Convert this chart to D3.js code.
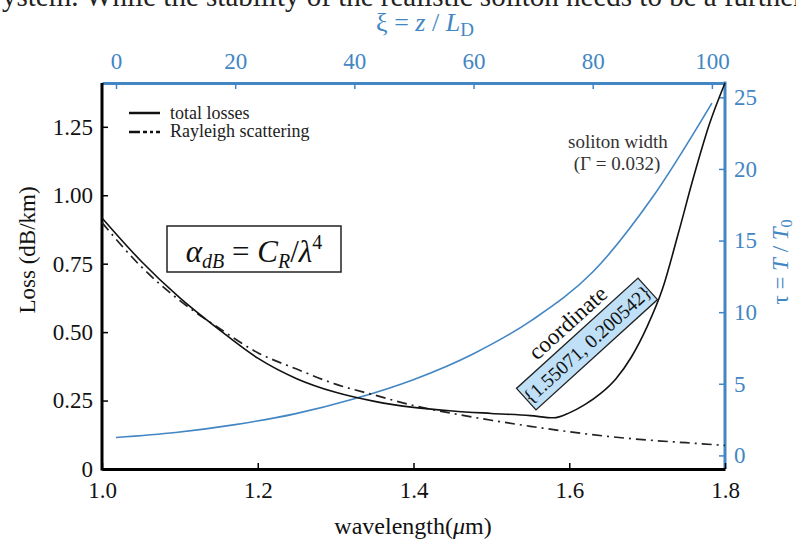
<!DOCTYPE html>
<html>
<head>
<meta charset="utf-8">
<script src="https://cdn.jsdelivr.net/npm/d3@7"></script>
<style>
    body { margin: 0; background: #fff; }
    text { font-family: "Liberation Serif", "Times New Roman", serif; }
</style>
</head>
<body>
<script>
//total losses
var lambdaTotal = [1.00, 1.05, 1.10, 1.15, 1.20, 1.25, 1.30, 1.35, 1.40, 1.45, 1.50, 1.55, 1.58, 1.60, 1.62, 1.64, 1.66, 1.68, 1.70, 1.72, 1.74, 1.76, 1.78, 1.80];
var lossTotal   = [0.917, 0.76, 0.625, 0.51, 0.405, 0.33, 0.28, 0.247, 0.225, 0.212, 0.203, 0.195, 0.187, 0.205, 0.235, 0.275, 0.33, 0.41, 0.52, 0.66, 0.86, 1.07, 1.26, 1.41];

//rayleigh scattering
var lambdaRayleigh = [1.00, 1.05, 1.10, 1.15, 1.20, 1.25, 1.30, 1.35, 1.40, 1.45, 1.50, 1.55, 1.60, 1.65, 1.70, 1.75, 1.80];
var lossRayleigh   = [0.90, 0.74, 0.615, 0.515, 0.425, 0.365, 0.31, 0.27, 0.232, 0.203, 0.178, 0.156, 0.136, 0.119, 0.106, 0.096, 0.086];

//soliton width (top and right axes)
var xiValues  = [0, 10, 20, 30, 40, 50, 60, 70, 80, 90, 100];
var tauValues = [1.25, 1.6, 2.15, 2.9, 3.95, 5.3, 7.1, 9.5, 12.8, 18.0, 24.6];

//ticks
var xTicks = [1.0, 1.2, 1.4, 1.6, 1.8];
var yTicks = [0, 0.25, 0.5, 0.75, 1.0, 1.25];
var yTickLabels = ["0", "0.25", "0.50", "0.75", "1.00", "1.25"];
var xiTicks = [0, 20, 40, 60, 80, 100];
var tauTicks = [0, 5, 10, 15, 20, 25];

window.onload = drawChart();

function drawChart() {
    var width = 796,
        height = 547;
    var left = 102, right = 725, top = 83, bottom = 469;
    var blue = "#4286c4";

    var svg = d3.select("body")
        .append("svg")
        .attr("width", width)
        .attr("height", height);

    //scales
    var x = d3.scaleLinear().domain([1.0, 1.8]).range([left, right]);
    var y = d3.scaleLinear().domain([0, 1.41]).range([bottom, top]);
    var xTop = d3.scaleLinear().domain([-2.35, 102.2]).range([left, right]);
    var yRight = d3.scaleLinear().domain([-0.95, 26]).range([bottom, top]);

    //cut-off text line from the page above the figure
    svg.append("text")
        .attr("x", 2)
        .attr("y", 6)
        .style("font-size", "29px")
        .attr("fill", "#222")
        .text("ystem. While the stability of the realistic soliton needs to be a further");

    //top axis (blue)
    var topAxis = svg.append("g")
        .attr("transform", "translate(0," + top + ")")
        .call(d3.axisTop(xTop).tickValues(xiTicks).tickSizeInner(-6).tickSizeOuter(0).tickPadding(14));
    //right axis (blue)
    var rightAxis = svg.append("g")
        .attr("transform", "translate(" + right + ",0)")
        .call(d3.axisRight(yRight).tickValues(tauTicks).tickSizeInner(-6).tickSizeOuter(0).tickPadding(9));
    [topAxis, rightAxis].forEach(function(g){
        g.select(".domain").attr("stroke", blue).attr("stroke-width", 3);
        g.selectAll(".tick line").attr("stroke", blue).attr("stroke-width", 1.5);
        g.selectAll(".tick text").attr("fill", blue).style("font-size", "23px").style("font-family", "Liberation Serif");
    });

    //bottom axis
    var bottomAxis = svg.append("g")
        .attr("transform", "translate(0," + bottom + ")")
        .call(d3.axisBottom(x).tickValues(xTicks).tickFormat(d3.format(".1f")).tickSizeInner(-6).tickSizeOuter(0).tickPadding(13));
    //left axis
    var leftAxis = svg.append("g")
        .attr("transform", "translate(" + left + ",0)")
        .call(d3.axisLeft(y).tickValues(yTicks).tickFormat(function(d, i){ return yTickLabels[i]; }).tickSizeInner(-6).tickSizeOuter(0).tickPadding(9));
    [bottomAxis, leftAxis].forEach(function(g){
        g.select(".domain").attr("stroke", "#000").attr("stroke-width", 3);
        g.selectAll(".tick line").attr("stroke", "#000").attr("stroke-width", 1.5);
        g.selectAll(".tick text").attr("fill", "#111").style("font-size", "23px").style("font-family", "Liberation Serif");
    });
    leftAxis.select(".domain").attr("d", "M0," + (bottom + 1.5) + "V" + top);
    rightAxis.select(".domain").attr("d", "M0," + bottom + "V" + (top - 1.5));

    //axis titles
    svg.append("text")
        .attr("x", 425).attr("y", 31)
        .attr("text-anchor", "middle")
        .attr("fill", blue)
        .style("font-size", "26px")
        .html('ξ = <tspan font-style="italic">z</tspan> / <tspan font-style="italic">L</tspan><tspan dy="5" font-size="19px">D</tspan>');
    svg.append("text")
        .attr("x", 413).attr("y", 534)
        .attr("text-anchor", "middle")
        .attr("fill", "#111")
        .style("font-size", "24px")
        .html('wavelength(<tspan font-style="italic">μ</tspan>m)');
    svg.append("text")
        .attr("transform", "translate(35,250) rotate(-90)")
        .attr("text-anchor", "middle")
        .attr("fill", "#111")
        .style("font-size", "23px")
        .text("Loss (dB/km)");
    svg.append("text")
        .attr("transform", "translate(788,262) rotate(-90)")
        .attr("text-anchor", "middle")
        .attr("fill", blue)
        .style("font-size", "23px")
        .html('τ = <tspan font-style="italic">T</tspan> / <tspan font-style="italic">T</tspan><tspan dy="4" font-size="16px">0</tspan>');

    //lines
    var lossLine = d3.line()
        .x(function(d){ return x(d[0]); })
        .y(function(d){ return y(d[1]); })
        .curve(d3.curveMonotoneX);
    var tauLine = d3.line()
        .x(function(d){ return xTop(d[0]); })
        .y(function(d){ return yRight(d[1]); })
        .curve(d3.curveMonotoneX);

    svg.append("path")
        .datum(d3.zip(xiValues, tauValues))
        .attr("fill", "none")
        .attr("stroke", blue)
        .attr("stroke-width", 1.6)
        .attr("d", tauLine);
    svg.append("path")
        .datum(d3.zip(lambdaRayleigh, lossRayleigh))
        .attr("fill", "none")
        .attr("stroke", "#222")
        .attr("stroke-width", 1.7)
        .attr("stroke-dasharray", "10,5,2,5")
        .attr("d", lossLine);
    svg.append("path")
        .datum(d3.zip(lambdaTotal, lossTotal))
        .attr("fill", "none")
        .attr("stroke", "#111")
        .attr("stroke-width", 1.6)
        .attr("d", lossLine);

    //legend
    svg.append("line").attr("x1", 129).attr("x2", 160).attr("y1", 113).attr("y2", 113)
        .attr("stroke", "#111").attr("stroke-width", 2.5);
    svg.append("line").attr("x1", 129).attr("x2", 160).attr("y1", 132).attr("y2", 132)
        .attr("stroke", "#111").attr("stroke-width", 2.5).attr("stroke-dasharray", "11,3,4,3,3,3");
    svg.append("text").attr("x", 170).attr("y", 119).style("font-size", "18px").attr("fill", "#222").text("total losses");
    svg.append("text").attr("x", 170).attr("y", 137).style("font-size", "18px").attr("fill", "#222").text("Rayleigh scattering");

    //soliton width note
    svg.append("text").attr("x", 618).attr("y", 148).attr("text-anchor", "middle")
        .style("font-size", "19px").attr("fill", "#333").text("soliton width");
    svg.append("text").attr("x", 617).attr("y", 170).attr("text-anchor", "middle")
        .style("font-size", "19px").attr("fill", "#333").text("(Γ = 0.032)");

    //formula box
    svg.append("rect").attr("x", 167).attr("y", 226).attr("width", 174).attr("height", 46)
        .attr("fill", "#fff").attr("stroke", "#222").attr("stroke-width", 1.5);
    svg.append("text").attr("x", 254).attr("y", 262).attr("text-anchor", "middle")
        .style("font-size", "31px").attr("fill", "#111")
        .html('<tspan font-style="italic">α</tspan><tspan dy="6" font-size="20px" font-style="italic">dB</tspan><tspan dy="-6"> = </tspan><tspan font-style="italic">C</tspan><tspan dy="6" font-size="20px" font-style="italic">R</tspan><tspan dy="-6">/</tspan><tspan font-style="italic">λ</tspan><tspan dy="-13" font-size="20px">4</tspan>');

    //rotated coordinate label
    var note = svg.append("g").attr("transform", "translate(587,344) rotate(-42.2)");
    note.append("rect").attr("x", -82).attr("y", -14.5).attr("width", 164).attr("height", 29)
        .attr("fill", "#bfe0f7").attr("stroke", "#222").attr("stroke-width", 1.3);
    note.append("text").attr("x", 0).attr("y", 7).attr("text-anchor", "middle")
        .style("font-size", "19.5px").attr("fill", "#111").text("{1.55071, 0.200542}");
    note.append("text").attr("x", 0).attr("y", -21).attr("text-anchor", "middle")
        .style("font-size", "23px").attr("fill", "#111").text("coordinate");
}
</script>
</body>
</html>
